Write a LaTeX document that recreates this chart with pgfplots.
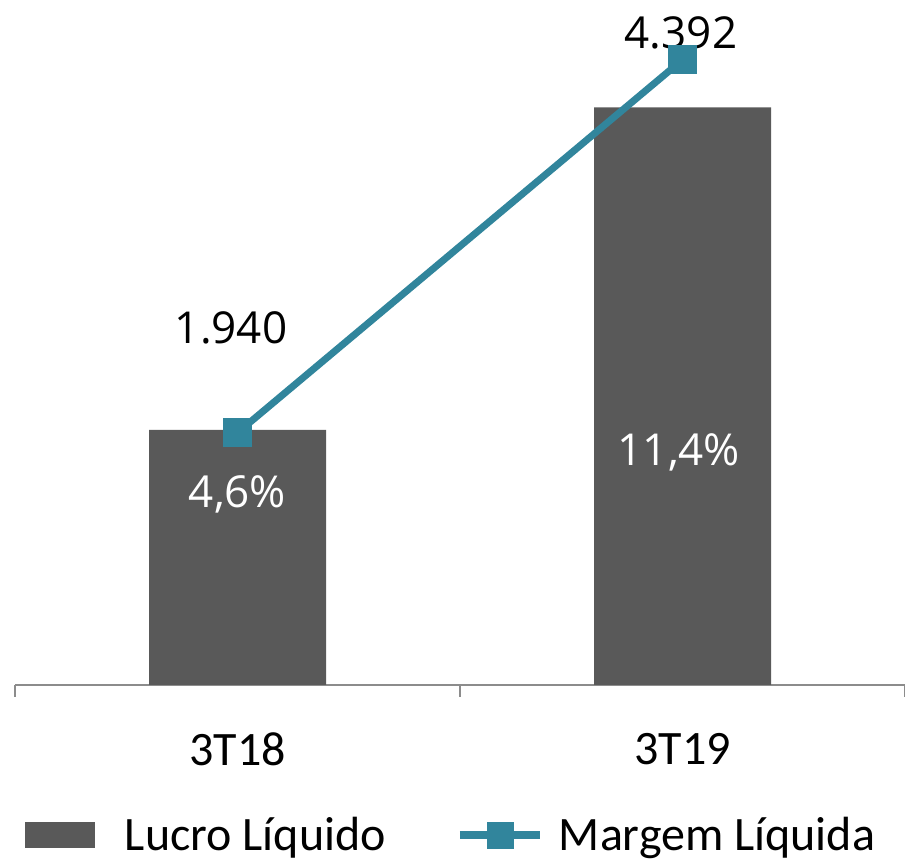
\documentclass[border=0pt]{standalone}
\usepackage{fontspec}
\setmainfont{Carlito}
\newfontfamily\lblfont{Open Sans}
\usepackage{pgfplots}
\pgfplotsset{compat=1.18}
\definecolor{barg}{HTML}{595959}
\definecolor{tealc}{HTML}{31859C}
\definecolor{axg}{HTML}{8C8C8C}
\pgfplotsset{
  barlegend/.style={legend image code/.code={\fill[barg] (0pt,-13pt) rectangle (70pt,13pt);}},
  linelegend/.style={legend image code/.code={%
    \draw[tealc, line width=8pt] (0pt,0pt) -- (80pt,0pt);
    \fill[tealc] (27pt,-13pt) rectangle (53pt,13pt);}},
}
\begin{document}
\begin{tikzpicture}
\useasboundingbox (0pt,0pt) rectangle (905pt,864pt);
\begin{axis}[
  at={(15pt,179pt)}, anchor=south west,
  scale only axis, width=890pt, height=685pt,
  xmin=-0.5, xmax=1.5, ymin=0, ymax=5209,
  clip=false,
  ybar, bar width=177pt,
  axis x line*=bottom, axis y line=none,
  x axis line style={-, draw=axg, line width=2pt},
  xtick={0,1}, xticklabels={3T18,3T19},
  major tick length=0pt,
  minor xtick={-0.5,0.5,1.5}, minor tick length=12pt, tick align=outside,
  minor tick style={draw=axg, line width=2pt},
  xticklabel style={font=\fontsize{48}{58}\selectfont, anchor=center, yshift=-64pt},
  legend columns=2,
  legend style={at={(0.0112,0)}, anchor=west, yshift=-150pt,
    draw=none, fill=none, inner sep=0pt, outer sep=0pt,
    font=\fontsize{48}{58}\selectfont,
    nodes={inner sep=0pt},
    /tikz/column 1/.style={column sep=30pt},
    /tikz/column 2/.style={column sep=70pt},
    /tikz/column 3/.style={column sep=15pt}},
]
\addplot[fill=barg, draw=none, barlegend]
  coordinates {(0,1940) (1,4392)};
\addlegendentry{Lucro Líquido}
\addlegendimage{linelegend}
\addlegendentry{Margem Líquida}
\node[font=\lblfont\fontsize{44}{53}\selectfont, text=black] at (axis cs:-0.0146,2715) {1.940};
\node[font=\lblfont\fontsize{44}{53}\selectfont, text=black] at (axis cs:0.9966,4958) {4.392};
\node[font=\lblfont\fontsize{44}{53}\selectfont, text=white] at (axis cs:0,1452) {4,6\%};
\node[font=\lblfont\fontsize{44}{53}\selectfont, text=white] at (axis cs:0.992,1772) {11,4\%};
\end{axis}
\begin{axis}[
  at={(15pt,179pt)}, anchor=south west,
  scale only axis, width=890pt, height=685pt,
  xmin=-0.5, xmax=1.5, ymin=0, ymax=12.49,
  clip=false, hide axis,
]
\addplot[tealc, line width=7pt, mark=square*, mark size=14pt, mark options={solid, line width=0pt}]
  coordinates {(0,4.6) (1,11.4)};
\end{axis}
\end{tikzpicture}
\end{document}
